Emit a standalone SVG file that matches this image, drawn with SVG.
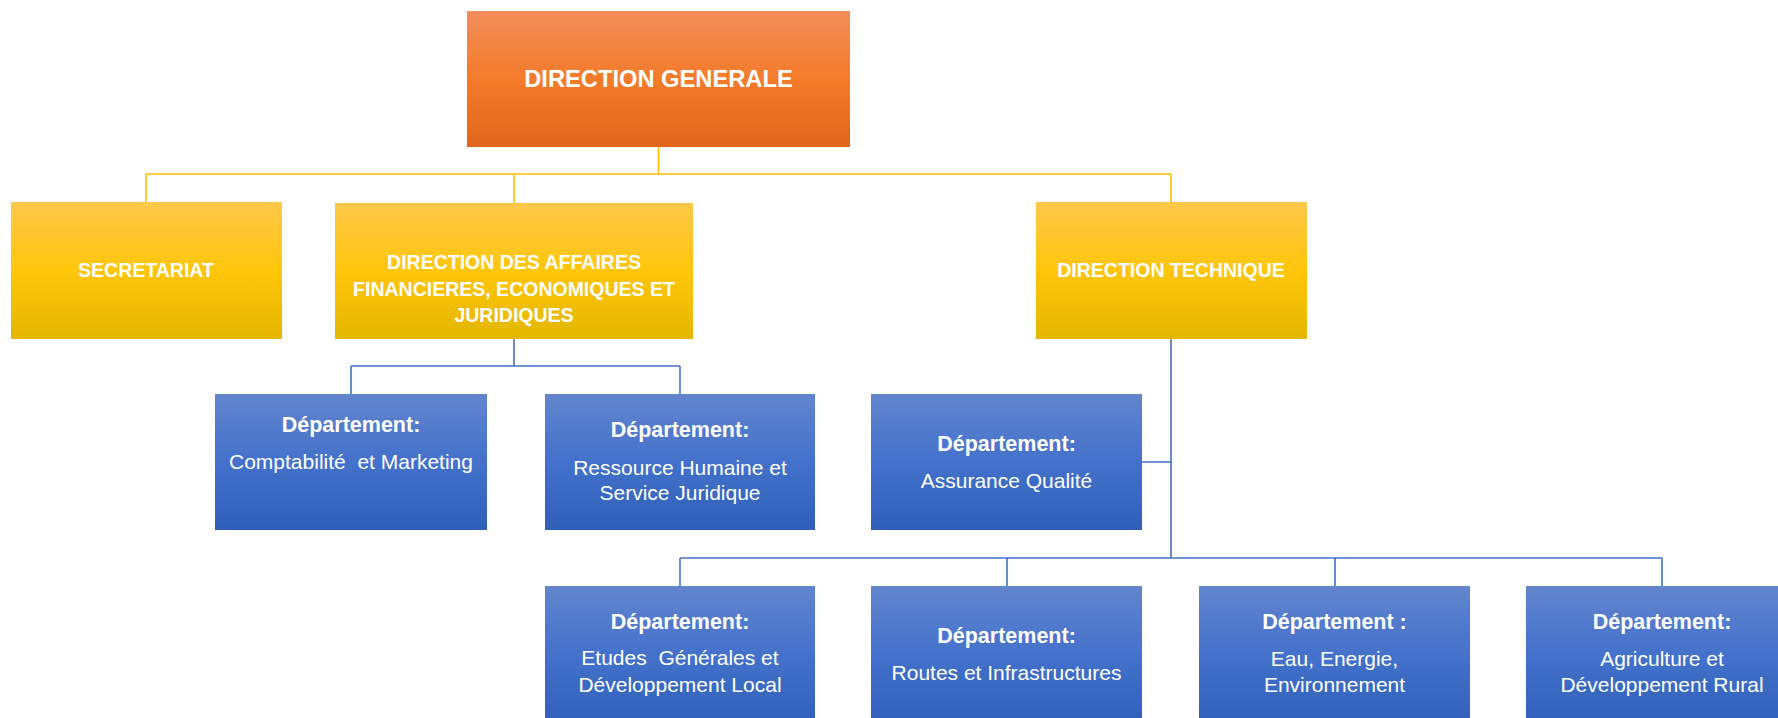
<svg xmlns="http://www.w3.org/2000/svg" width="1778" height="718" viewBox="0 0 1778 718">
<defs>
<linearGradient id="gO" x1="0" y1="0" x2="0" y2="1">
<stop offset="0" stop-color="#F28E5C"/><stop offset="0.5" stop-color="#F47B2A"/><stop offset="1" stop-color="#E2661A"/>
</linearGradient>
<linearGradient id="gY" x1="0" y1="0" x2="0" y2="1">
<stop offset="0" stop-color="#FEC84B"/><stop offset="0.5" stop-color="#FFC60A"/><stop offset="1" stop-color="#E3B600"/>
</linearGradient>
<linearGradient id="gB" x1="0" y1="0" x2="0" y2="1">
<stop offset="0" stop-color="#6385CE"/><stop offset="0.5" stop-color="#4371CB"/><stop offset="1" stop-color="#2F60B8"/>
</linearGradient>
</defs>
<style>
.o{fill:url(#gO)} .y{fill:url(#gY)} .b{fill:url(#gB)}
text{font-family:"Liberation Sans",Arial,sans-serif;fill:#fff;text-anchor:middle;white-space:pre}
.h{font-weight:bold;font-size:19.5px}
.dg{font-weight:bold;font-size:23.7px}
.dt{font-weight:bold;font-size:21.5px}
.dd{font-size:21px}
.cy{fill:none;stroke:#FFC000;stroke-width:1.6}
.cb{fill:none;stroke:#4472C4;stroke-width:1.6}
</style>
<g id="connectors">
<path class="cy" d="M658.5 146V174M146 174H1171M146 174V202M514 174V203M1171 174V202"/>
<path class="cb" d="M514 339V366M351 366H680M351 366V394M680 366V394"/>
<path class="cb" d="M1171 339V558M1142 462H1171M680 558H1662M680 558V586M1007 558V586M1335 558V586M1662 558V586"/>
</g>
<g id="dg"><rect class="o" x="467" y="11" width="383" height="136"/><text class="dg" x="658.5" y="87">DIRECTION GENERALE</text></g>
<g id="secretariat"><rect class="y" x="11" y="202" width="271" height="137"/><text class="h" x="146" y="277">SECRETARIAT</text></g>
<g id="dafej"><rect class="y" x="335" y="203" width="358" height="136"/>
<text class="h" x="514" y="269">DIRECTION DES AFFAIRES</text>
<text class="h" x="514" y="295.5">FINANCIERES, ECONOMIQUES ET</text>
<text class="h" x="514" y="322">JURIDIQUES</text></g>
<g id="dt"><rect class="y" x="1036" y="202" width="271" height="137"/><text class="h" x="1171" y="277">DIRECTION TECHNIQUE</text></g>
<g id="d-compta"><rect class="b" x="215" y="394" width="272" height="136"/>
<text class="dt" x="351" y="432">Département:</text>
<text class="dd" x="351" y="469" xml:space="preserve">Comptabilité  et Marketing</text></g>
<g id="d-rh"><rect class="b" x="545" y="394" width="270" height="136"/>
<text class="dt" x="680" y="437">Département:</text>
<text class="dd" x="680" y="475">Ressource Humaine et</text>
<text class="dd" x="680" y="500">Service Juridique</text></g>
<g id="d-aq"><rect class="b" x="871" y="394" width="271" height="136"/>
<text class="dt" x="1006.5" y="451">Département:</text>
<text class="dd" x="1006.5" y="488">Assurance Qualité</text></g>
<g id="d-etudes"><rect class="b" x="545" y="586" width="270" height="140"/>
<text class="dt" x="680" y="629">Département:</text>
<text class="dd" x="680" y="665" xml:space="preserve">Etudes  Générales et</text>
<text class="dd" x="680" y="692">Développement Local</text></g>
<g id="d-routes"><rect class="b" x="871" y="586" width="271" height="140"/>
<text class="dt" x="1006.5" y="643">Département:</text>
<text class="dd" x="1006.5" y="680">Routes et Infrastructures</text></g>
<g id="d-eau"><rect class="b" x="1199" y="586" width="271" height="140"/>
<text class="dt" x="1334.5" y="629">Département :</text>
<text class="dd" x="1334.5" y="666">Eau, Energie,</text>
<text class="dd" x="1334.5" y="692">Environnement</text></g>
<g id="d-agri"><rect class="b" x="1526" y="586" width="272" height="140"/>
<text class="dt" x="1662" y="629">Département:</text>
<text class="dd" x="1662" y="666">Agriculture et</text>
<text class="dd" x="1662" y="692">Développement Rural</text></g>
</svg>
